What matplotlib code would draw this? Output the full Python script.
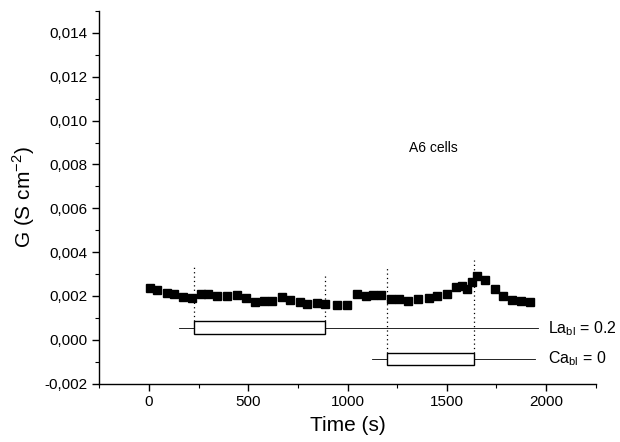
"""
G vs time, A6 cells, La / Ca basolateral
"""
import numpy as np
import matplotlib
matplotlib.use('Agg')
import matplotlib.pyplot as plt
from matplotlib.patches import Rectangle

plt.rcParams['font.family'] = ['Liberation Sans', 'DejaVu Sans']
plt.rcParams['mathtext.fontset'] = 'custom'
plt.rcParams['mathtext.rm'] = 'Liberation Sans'

# data
t1 = [5, 42, 89, 129, 173, 218, 260, 300, 344, 391, 445, 488, 533, 579, 621,
      671, 710, 763, 797, 847, 889, 948, 995]
g1 = [2.37, 2.28, 2.13, 2.07, 1.95, 1.90, 2.10, 2.10, 2.01, 2.01, 2.05, 1.93,
      1.74, 1.79, 1.79, 1.95, 1.83, 1.72, 1.63, 1.68, 1.64, 1.57, 1.57]
t2 = [1049, 1091, 1129, 1171, 1217, 1257, 1304, 1357, 1408, 1451, 1502, 1544,
      1575, 1602, 1628, 1653, 1694, 1741, 1784, 1829, 1871, 1921]
g2 = [2.09, 2.02, 2.03, 2.03, 1.85, 1.87, 1.75, 1.86, 1.90, 2.00, 2.11, 2.39,
      2.44, 2.33, 2.66, 2.92, 2.71, 2.33, 1.98, 1.83, 1.79, 1.72]

# perfusion intervals (s) and marker levels (mS cm-2)
la_on, la_off = 227, 888
ca_on, ca_off = 1200, 1636
la_line = [151, 1961]
ca_line = [1124, 1946]
la_box = [0.26, 0.87]
ca_box = [-1.17, -0.58]
la_level = 0.52
ca_level = -0.87
dotted_x = [la_on, la_off, ca_on, ca_off]
dotted_top = [3.35, 3.06, 3.35, 3.62]
dotted_bottom = [0.87, 0.87, -0.58, -0.58]

yticks = [-0.002, 0.000, 0.002, 0.004, 0.006, 0.008, 0.010, 0.012, 0.014]
ytick_labels = ['-0,002', '0,000', '0,002', '0,004', '0,006', '0,008',
                '0,010', '0,012', '0,014']
xticks = [0, 500, 1000, 1500, 2000]

fig = plt.figure(figsize=(6.2, 4.42), dpi=100)
ax = fig.add_axes([0.160, 0.132, 0.801, 0.843])

t = np.array(t1 + t2)
g = np.array(g1 + g2) * 1e-3
ax.plot(t, g, 's', color='black', ms=6.3, mec='black', zorder=3)

# dotted markers of solution changes
for x, y0, y1 in zip(dotted_x, dotted_bottom, dotted_top):
    ax.plot([x, x], [y0 * 1e-3, y1 * 1e-3], color='black', lw=0.9,
            ls=(0, (1, 2.5)))

# La bar
ax.plot(la_line, [la_level * 1e-3] * 2, color='black', lw=0.6)
ax.add_patch(Rectangle((la_on, la_box[0] * 1e-3), la_off - la_on,
                       (la_box[1] - la_box[0]) * 1e-3,
                       facecolor='white', edgecolor='black', lw=1.0, zorder=2))
# Ca bar
ax.plot(ca_line, [ca_level * 1e-3] * 2, color='black', lw=0.6)
ax.add_patch(Rectangle((ca_on, ca_box[0] * 1e-3), ca_off - ca_on,
                       (ca_box[1] - ca_box[0]) * 1e-3,
                       facecolor='white', edgecolor='black', lw=1.0, zorder=2))

ax.text(2010, la_level * 1e-3, r'La$_{\mathregular{bl}}$ = 0.2', fontsize=11.5,
        va='center', ha='left')
ax.text(2010, ca_level * 1e-3, r'Ca$_{\mathregular{bl}}$ = 0', fontsize=11.5,
        va='center', ha='left')
ax.text(1433, 0.00877, 'A6 cells', fontsize=10, ha='center', va='center')

ax.set_xlim(-250, 2250)
ax.set_ylim(-0.002, 0.015)
ax.set_xticks(xticks)
ax.set_xticks(np.arange(-250, 2251, 250), minor=True)
ax.set_yticks(yticks)
ax.set_yticklabels(ytick_labels)
ax.set_yticks(np.arange(-0.002, 0.0151, 0.001), minor=True)

ax.spines['top'].set_visible(False)
ax.spines['right'].set_visible(False)
for s in ['left', 'bottom']:
    ax.spines[s].set_linewidth(1.0)
ax.tick_params(which='major', direction='out', length=5, width=1.0,
               labelsize=11)
ax.tick_params(which='minor', direction='out', length=3, width=0.8)

ax.set_xlabel('Time (s)', fontsize=15, labelpad=5)
ax.set_ylabel(r'G (S cm$^{\mathregular{-2}}$)', fontsize=15, labelpad=5)

fig.savefig('out.png', dpi=100)
